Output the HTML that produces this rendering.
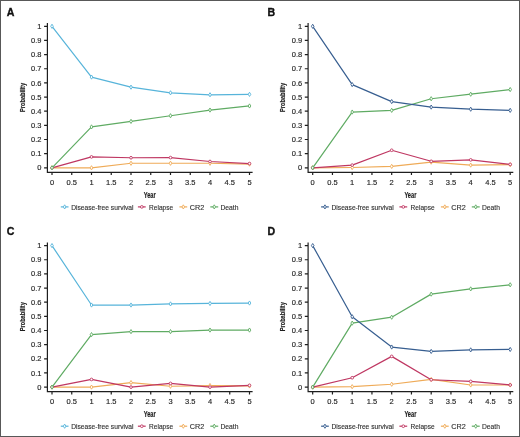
<!DOCTYPE html>
<html><head><meta charset="utf-8"><style>
html,body{margin:0;padding:0;background:#fff;}
svg{display:block;will-change:transform;}
text{font-family:"Liberation Sans", sans-serif;}
</style></head><body>
<svg width="520" height="437" viewBox="0 0 520 437">
<rect x="0" y="0" width="520" height="437" fill="#fff"/>
<g transform="translate(0,0)">
<text x="6.7" y="15.6" font-size="10.6" font-weight="bold" fill="#111" stroke="#111" stroke-width="0.35">A</text>
<path d="M47.4 23.1V172.3H252.6M44.1 167.8H47.4M44.1 153.65H47.4M44.1 139.5H47.4M44.1 125.35H47.4M44.1 111.2H47.4M44.1 97.05H47.4M44.1 82.9H47.4M44.1 68.75H47.4M44.1 54.6H47.4M44.1 40.45H47.4M44.1 26.3H47.4M52 172.3V175.1M71.75 172.3V175.1M91.5 172.3V175.1M111.25 172.3V175.1M131 172.3V175.1M150.75 172.3V175.1M170.5 172.3V175.1M190.25 172.3V175.1M210 172.3V175.1M229.75 172.3V175.1M249.5 172.3V175.1" fill="none" stroke="#1e1e1e" stroke-width="1.2"/>
<text x="41.5" y="170.4" font-size="7.5" text-anchor="end" fill="#262626" stroke="#262626" stroke-width="0.15">0</text>
<text x="41.5" y="156.25" font-size="7.5" text-anchor="end" fill="#262626" stroke="#262626" stroke-width="0.15">0.1</text>
<text x="41.5" y="142.1" font-size="7.5" text-anchor="end" fill="#262626" stroke="#262626" stroke-width="0.15">0.2</text>
<text x="41.5" y="127.95" font-size="7.5" text-anchor="end" fill="#262626" stroke="#262626" stroke-width="0.15">0.3</text>
<text x="41.5" y="113.8" font-size="7.5" text-anchor="end" fill="#262626" stroke="#262626" stroke-width="0.15">0.4</text>
<text x="41.5" y="99.65" font-size="7.5" text-anchor="end" fill="#262626" stroke="#262626" stroke-width="0.15">0.5</text>
<text x="41.5" y="85.5" font-size="7.5" text-anchor="end" fill="#262626" stroke="#262626" stroke-width="0.15">0.6</text>
<text x="41.5" y="71.35" font-size="7.5" text-anchor="end" fill="#262626" stroke="#262626" stroke-width="0.15">0.7</text>
<text x="41.5" y="57.2" font-size="7.5" text-anchor="end" fill="#262626" stroke="#262626" stroke-width="0.15">0.8</text>
<text x="41.5" y="43.05" font-size="7.5" text-anchor="end" fill="#262626" stroke="#262626" stroke-width="0.15">0.9</text>
<text x="41.5" y="28.9" font-size="7.5" text-anchor="end" fill="#262626" stroke="#262626" stroke-width="0.15">1</text>
<text x="52" y="184.6" font-size="7.5" text-anchor="middle" fill="#262626" stroke="#262626" stroke-width="0.15">0</text>
<text x="71.75" y="184.6" font-size="7.5" text-anchor="middle" fill="#262626" stroke="#262626" stroke-width="0.15">0.5</text>
<text x="91.5" y="184.6" font-size="7.5" text-anchor="middle" fill="#262626" stroke="#262626" stroke-width="0.15">1</text>
<text x="111.25" y="184.6" font-size="7.5" text-anchor="middle" fill="#262626" stroke="#262626" stroke-width="0.15">1.5</text>
<text x="131" y="184.6" font-size="7.5" text-anchor="middle" fill="#262626" stroke="#262626" stroke-width="0.15">2</text>
<text x="150.75" y="184.6" font-size="7.5" text-anchor="middle" fill="#262626" stroke="#262626" stroke-width="0.15">2.5</text>
<text x="170.5" y="184.6" font-size="7.5" text-anchor="middle" fill="#262626" stroke="#262626" stroke-width="0.15">3</text>
<text x="190.25" y="184.6" font-size="7.5" text-anchor="middle" fill="#262626" stroke="#262626" stroke-width="0.15">3.5</text>
<text x="210" y="184.6" font-size="7.5" text-anchor="middle" fill="#262626" stroke="#262626" stroke-width="0.15">4</text>
<text x="229.75" y="184.6" font-size="7.5" text-anchor="middle" fill="#262626" stroke="#262626" stroke-width="0.15">4.5</text>
<text x="249.5" y="184.6" font-size="7.5" text-anchor="middle" fill="#262626" stroke="#262626" stroke-width="0.15">5</text>
<text x="149.7" y="197.6" font-size="9.2" font-weight="bold" text-anchor="middle" textLength="12" lengthAdjust="spacingAndGlyphs" fill="#1e1e1e" stroke="#1e1e1e" stroke-width="0.18">Year</text>
<text transform="translate(24.5,97.4) rotate(-90)" x="0" y="0" font-size="7.8" font-weight="bold" text-anchor="middle" textLength="29" lengthAdjust="spacingAndGlyphs" fill="#1e1e1e" stroke="#1e1e1e" stroke-width="0.15">Probability</text>
<polyline points="52,167.8 91.5,167.8 131,163.27 170.5,163.27 210,163.27 249.5,164.12" fill="none" stroke="#efab58" stroke-width="1.2" stroke-linejoin="round"/>
<path d="M52 165.7L53.3 167.8L52 169.9L50.7 167.8Z" fill="#fff" stroke="#efab58" stroke-width="0.9"/>
<path d="M91.5 165.7L92.8 167.8L91.5 169.9L90.2 167.8Z" fill="#fff" stroke="#efab58" stroke-width="0.9"/>
<path d="M131 161.17L132.3 163.27L131 165.37L129.7 163.27Z" fill="#fff" stroke="#efab58" stroke-width="0.9"/>
<path d="M170.5 161.17L171.8 163.27L170.5 165.37L169.2 163.27Z" fill="#fff" stroke="#efab58" stroke-width="0.9"/>
<path d="M210 161.17L211.3 163.27L210 165.37L208.7 163.27Z" fill="#fff" stroke="#efab58" stroke-width="0.9"/>
<path d="M249.5 162.02L250.8 164.12L249.5 166.22L248.2 164.12Z" fill="#fff" stroke="#efab58" stroke-width="0.9"/>
<polyline points="52,167.8 91.5,156.9 131,157.75 170.5,157.61 210,161.5 249.5,163.56" fill="none" stroke="#bf3762" stroke-width="1.2" stroke-linejoin="round"/>
<circle cx="52" cy="167.8" r="1.35" fill="#fff" stroke="#bf3762" stroke-width="0.9"/>
<circle cx="91.5" cy="156.9" r="1.35" fill="#fff" stroke="#bf3762" stroke-width="0.9"/>
<circle cx="131" cy="157.75" r="1.35" fill="#fff" stroke="#bf3762" stroke-width="0.9"/>
<circle cx="170.5" cy="157.61" r="1.35" fill="#fff" stroke="#bf3762" stroke-width="0.9"/>
<circle cx="210" cy="161.5" r="1.35" fill="#fff" stroke="#bf3762" stroke-width="0.9"/>
<circle cx="249.5" cy="163.56" r="1.35" fill="#fff" stroke="#bf3762" stroke-width="0.9"/>
<polyline points="52,167.8 91.5,126.91 131,121.39 170.5,115.73 210,110.07 249.5,105.96" fill="none" stroke="#5fab63" stroke-width="1.2" stroke-linejoin="round"/>
<path d="M52 165.7L53.3 167.8L52 169.9L50.7 167.8Z" fill="#fff" stroke="#5fab63" stroke-width="0.9"/>
<path d="M91.5 124.81L92.8 126.91L91.5 129.01L90.2 126.91Z" fill="#fff" stroke="#5fab63" stroke-width="0.9"/>
<path d="M131 119.29L132.3 121.39L131 123.49L129.7 121.39Z" fill="#fff" stroke="#5fab63" stroke-width="0.9"/>
<path d="M170.5 113.63L171.8 115.73L170.5 117.83L169.2 115.73Z" fill="#fff" stroke="#5fab63" stroke-width="0.9"/>
<path d="M210 107.97L211.3 110.07L210 112.17L208.7 110.07Z" fill="#fff" stroke="#5fab63" stroke-width="0.9"/>
<path d="M249.5 103.86L250.8 105.96L249.5 108.06L248.2 105.96Z" fill="#fff" stroke="#5fab63" stroke-width="0.9"/>
<polyline points="52,26.3 91.5,77.1 131,87.15 170.5,92.81 210,94.79 249.5,94.36" fill="none" stroke="#57b4da" stroke-width="1.2" stroke-linejoin="round"/>
<path d="M52 24.2L53.3 26.3L52 28.4L50.7 26.3Z" fill="#fff" stroke="#57b4da" stroke-width="0.9"/>
<path d="M91.5 75L92.8 77.1L91.5 79.2L90.2 77.1Z" fill="#fff" stroke="#57b4da" stroke-width="0.9"/>
<path d="M131 85.05L132.3 87.15L131 89.25L129.7 87.15Z" fill="#fff" stroke="#57b4da" stroke-width="0.9"/>
<path d="M170.5 90.71L171.8 92.81L170.5 94.91L169.2 92.81Z" fill="#fff" stroke="#57b4da" stroke-width="0.9"/>
<path d="M210 92.69L211.3 94.79L210 96.89L208.7 94.79Z" fill="#fff" stroke="#57b4da" stroke-width="0.9"/>
<path d="M249.5 92.26L250.8 94.36L249.5 96.46L248.2 94.36Z" fill="#fff" stroke="#57b4da" stroke-width="0.9"/>
<path d="M60.8 206.9H68.5" stroke="#57b4da" stroke-width="1.2"/>
<path d="M64.65 204.8L65.95 206.9L64.65 209L63.35 206.9Z" fill="#fff" stroke="#57b4da" stroke-width="0.9"/>
<text x="71.2" y="209.8" font-size="7.3" textLength="62.3" lengthAdjust="spacingAndGlyphs" fill="#2e2e2e" stroke="#2e2e2e" stroke-width="0.12">Disease-free survival</text>
<path d="M137.9 206.9H145.7" stroke="#bf3762" stroke-width="1.2"/>
<circle cx="141.8" cy="206.9" r="1.35" fill="#fff" stroke="#bf3762" stroke-width="0.9"/>
<text x="149.1" y="209.8" font-size="7.3" textLength="24" lengthAdjust="spacingAndGlyphs" fill="#2e2e2e" stroke="#2e2e2e" stroke-width="0.12">Relapse</text>
<path d="M179.4 206.9H187.2" stroke="#efab58" stroke-width="1.2"/>
<path d="M183.3 204.8L184.6 206.9L183.3 209L182 206.9Z" fill="#fff" stroke="#efab58" stroke-width="0.9"/>
<text x="189.8" y="209.8" font-size="7.3" textLength="14.5" lengthAdjust="spacingAndGlyphs" fill="#2e2e2e" stroke="#2e2e2e" stroke-width="0.12">CR2</text>
<path d="M210.3 206.9H218.2" stroke="#5fab63" stroke-width="1.2"/>
<path d="M214.25 204.8L215.55 206.9L214.25 209L212.95 206.9Z" fill="#fff" stroke="#5fab63" stroke-width="0.9"/>
<text x="220.5" y="209.8" font-size="7.3" textLength="18" lengthAdjust="spacingAndGlyphs" fill="#2e2e2e" stroke="#2e2e2e" stroke-width="0.12">Death</text>
</g>
<g transform="translate(260.7,0)">
<text x="6.7" y="15.6" font-size="10.6" font-weight="bold" fill="#111" stroke="#111" stroke-width="0.35">B</text>
<path d="M47.4 23.1V172.3H252.6M44.1 167.8H47.4M44.1 153.65H47.4M44.1 139.5H47.4M44.1 125.35H47.4M44.1 111.2H47.4M44.1 97.05H47.4M44.1 82.9H47.4M44.1 68.75H47.4M44.1 54.6H47.4M44.1 40.45H47.4M44.1 26.3H47.4M52 172.3V175.1M71.75 172.3V175.1M91.5 172.3V175.1M111.25 172.3V175.1M131 172.3V175.1M150.75 172.3V175.1M170.5 172.3V175.1M190.25 172.3V175.1M210 172.3V175.1M229.75 172.3V175.1M249.5 172.3V175.1" fill="none" stroke="#1e1e1e" stroke-width="1.2"/>
<text x="41.5" y="170.4" font-size="7.5" text-anchor="end" fill="#262626" stroke="#262626" stroke-width="0.15">0</text>
<text x="41.5" y="156.25" font-size="7.5" text-anchor="end" fill="#262626" stroke="#262626" stroke-width="0.15">0.1</text>
<text x="41.5" y="142.1" font-size="7.5" text-anchor="end" fill="#262626" stroke="#262626" stroke-width="0.15">0.2</text>
<text x="41.5" y="127.95" font-size="7.5" text-anchor="end" fill="#262626" stroke="#262626" stroke-width="0.15">0.3</text>
<text x="41.5" y="113.8" font-size="7.5" text-anchor="end" fill="#262626" stroke="#262626" stroke-width="0.15">0.4</text>
<text x="41.5" y="99.65" font-size="7.5" text-anchor="end" fill="#262626" stroke="#262626" stroke-width="0.15">0.5</text>
<text x="41.5" y="85.5" font-size="7.5" text-anchor="end" fill="#262626" stroke="#262626" stroke-width="0.15">0.6</text>
<text x="41.5" y="71.35" font-size="7.5" text-anchor="end" fill="#262626" stroke="#262626" stroke-width="0.15">0.7</text>
<text x="41.5" y="57.2" font-size="7.5" text-anchor="end" fill="#262626" stroke="#262626" stroke-width="0.15">0.8</text>
<text x="41.5" y="43.05" font-size="7.5" text-anchor="end" fill="#262626" stroke="#262626" stroke-width="0.15">0.9</text>
<text x="41.5" y="28.9" font-size="7.5" text-anchor="end" fill="#262626" stroke="#262626" stroke-width="0.15">1</text>
<text x="52" y="184.6" font-size="7.5" text-anchor="middle" fill="#262626" stroke="#262626" stroke-width="0.15">0</text>
<text x="71.75" y="184.6" font-size="7.5" text-anchor="middle" fill="#262626" stroke="#262626" stroke-width="0.15">0.5</text>
<text x="91.5" y="184.6" font-size="7.5" text-anchor="middle" fill="#262626" stroke="#262626" stroke-width="0.15">1</text>
<text x="111.25" y="184.6" font-size="7.5" text-anchor="middle" fill="#262626" stroke="#262626" stroke-width="0.15">1.5</text>
<text x="131" y="184.6" font-size="7.5" text-anchor="middle" fill="#262626" stroke="#262626" stroke-width="0.15">2</text>
<text x="150.75" y="184.6" font-size="7.5" text-anchor="middle" fill="#262626" stroke="#262626" stroke-width="0.15">2.5</text>
<text x="170.5" y="184.6" font-size="7.5" text-anchor="middle" fill="#262626" stroke="#262626" stroke-width="0.15">3</text>
<text x="190.25" y="184.6" font-size="7.5" text-anchor="middle" fill="#262626" stroke="#262626" stroke-width="0.15">3.5</text>
<text x="210" y="184.6" font-size="7.5" text-anchor="middle" fill="#262626" stroke="#262626" stroke-width="0.15">4</text>
<text x="229.75" y="184.6" font-size="7.5" text-anchor="middle" fill="#262626" stroke="#262626" stroke-width="0.15">4.5</text>
<text x="249.5" y="184.6" font-size="7.5" text-anchor="middle" fill="#262626" stroke="#262626" stroke-width="0.15">5</text>
<text x="149.7" y="197.6" font-size="9.2" font-weight="bold" text-anchor="middle" textLength="12" lengthAdjust="spacingAndGlyphs" fill="#1e1e1e" stroke="#1e1e1e" stroke-width="0.18">Year</text>
<text transform="translate(24.5,97.4) rotate(-90)" x="0" y="0" font-size="7.8" font-weight="bold" text-anchor="middle" textLength="29" lengthAdjust="spacingAndGlyphs" fill="#1e1e1e" stroke="#1e1e1e" stroke-width="0.15">Probability</text>
<polyline points="52,167.8 91.5,167.52 131,166.39 170.5,162.14 210,165.11 249.5,164.69" fill="none" stroke="#efab58" stroke-width="1.2" stroke-linejoin="round"/>
<path d="M52 165.7L53.3 167.8L52 169.9L50.7 167.8Z" fill="#fff" stroke="#efab58" stroke-width="0.9"/>
<path d="M91.5 165.42L92.8 167.52L91.5 169.62L90.2 167.52Z" fill="#fff" stroke="#efab58" stroke-width="0.9"/>
<path d="M131 164.29L132.3 166.39L131 168.49L129.7 166.39Z" fill="#fff" stroke="#efab58" stroke-width="0.9"/>
<path d="M170.5 160.04L171.8 162.14L170.5 164.24L169.2 162.14Z" fill="#fff" stroke="#efab58" stroke-width="0.9"/>
<path d="M210 163.01L211.3 165.11L210 167.21L208.7 165.11Z" fill="#fff" stroke="#efab58" stroke-width="0.9"/>
<path d="M249.5 162.59L250.8 164.69L249.5 166.79L248.2 164.69Z" fill="#fff" stroke="#efab58" stroke-width="0.9"/>
<polyline points="52,167.8 91.5,165.11 131,150.25 170.5,161.29 210,159.88 249.5,164.4" fill="none" stroke="#bf3762" stroke-width="1.2" stroke-linejoin="round"/>
<circle cx="52" cy="167.8" r="1.35" fill="#fff" stroke="#bf3762" stroke-width="0.9"/>
<circle cx="91.5" cy="165.11" r="1.35" fill="#fff" stroke="#bf3762" stroke-width="0.9"/>
<circle cx="131" cy="150.25" r="1.35" fill="#fff" stroke="#bf3762" stroke-width="0.9"/>
<circle cx="170.5" cy="161.29" r="1.35" fill="#fff" stroke="#bf3762" stroke-width="0.9"/>
<circle cx="210" cy="159.88" r="1.35" fill="#fff" stroke="#bf3762" stroke-width="0.9"/>
<circle cx="249.5" cy="164.4" r="1.35" fill="#fff" stroke="#bf3762" stroke-width="0.9"/>
<polyline points="52,167.8 91.5,112.05 131,110.35 170.5,98.75 210,94.22 249.5,89.55" fill="none" stroke="#5fab63" stroke-width="1.2" stroke-linejoin="round"/>
<path d="M52 165.7L53.3 167.8L52 169.9L50.7 167.8Z" fill="#fff" stroke="#5fab63" stroke-width="0.9"/>
<path d="M91.5 109.95L92.8 112.05L91.5 114.15L90.2 112.05Z" fill="#fff" stroke="#5fab63" stroke-width="0.9"/>
<path d="M131 108.25L132.3 110.35L131 112.45L129.7 110.35Z" fill="#fff" stroke="#5fab63" stroke-width="0.9"/>
<path d="M170.5 96.65L171.8 98.75L170.5 100.85L169.2 98.75Z" fill="#fff" stroke="#5fab63" stroke-width="0.9"/>
<path d="M210 92.12L211.3 94.22L210 96.32L208.7 94.22Z" fill="#fff" stroke="#5fab63" stroke-width="0.9"/>
<path d="M249.5 87.45L250.8 89.55L249.5 91.65L248.2 89.55Z" fill="#fff" stroke="#5fab63" stroke-width="0.9"/>
<polyline points="52,26.3 91.5,84.6 131,101.58 170.5,107.1 210,109.22 249.5,110.35" fill="none" stroke="#375e90" stroke-width="1.2" stroke-linejoin="round"/>
<path d="M52 24.2L53.3 26.3L52 28.4L50.7 26.3Z" fill="#fff" stroke="#375e90" stroke-width="0.9"/>
<path d="M91.5 82.5L92.8 84.6L91.5 86.7L90.2 84.6Z" fill="#fff" stroke="#375e90" stroke-width="0.9"/>
<path d="M131 99.48L132.3 101.58L131 103.68L129.7 101.58Z" fill="#fff" stroke="#375e90" stroke-width="0.9"/>
<path d="M170.5 105L171.8 107.1L170.5 109.2L169.2 107.1Z" fill="#fff" stroke="#375e90" stroke-width="0.9"/>
<path d="M210 107.12L211.3 109.22L210 111.32L208.7 109.22Z" fill="#fff" stroke="#375e90" stroke-width="0.9"/>
<path d="M249.5 108.25L250.8 110.35L249.5 112.45L248.2 110.35Z" fill="#fff" stroke="#375e90" stroke-width="0.9"/>
<path d="M60.4 206.9H68.1" stroke="#375e90" stroke-width="1.2"/>
<path d="M64.25 204.8L65.55 206.9L64.25 209L62.95 206.9Z" fill="#fff" stroke="#375e90" stroke-width="0.9"/>
<text x="70.8" y="209.8" font-size="7.3" textLength="62.3" lengthAdjust="spacingAndGlyphs" fill="#2e2e2e" stroke="#2e2e2e" stroke-width="0.12">Disease-free survival</text>
<path d="M138.7 206.9H146.5" stroke="#bf3762" stroke-width="1.2"/>
<circle cx="142.6" cy="206.9" r="1.35" fill="#fff" stroke="#bf3762" stroke-width="0.9"/>
<text x="149.9" y="209.8" font-size="7.3" textLength="24" lengthAdjust="spacingAndGlyphs" fill="#2e2e2e" stroke="#2e2e2e" stroke-width="0.12">Relapse</text>
<path d="M180.2 206.9H188" stroke="#efab58" stroke-width="1.2"/>
<path d="M184.1 204.8L185.4 206.9L184.1 209L182.8 206.9Z" fill="#fff" stroke="#efab58" stroke-width="0.9"/>
<text x="190.6" y="209.8" font-size="7.3" textLength="14.5" lengthAdjust="spacingAndGlyphs" fill="#2e2e2e" stroke="#2e2e2e" stroke-width="0.12">CR2</text>
<path d="M211.1 206.9H219" stroke="#5fab63" stroke-width="1.2"/>
<path d="M215.05 204.8L216.35 206.9L215.05 209L213.75 206.9Z" fill="#fff" stroke="#5fab63" stroke-width="0.9"/>
<text x="221.3" y="209.8" font-size="7.3" textLength="18" lengthAdjust="spacingAndGlyphs" fill="#2e2e2e" stroke="#2e2e2e" stroke-width="0.12">Death</text>
</g>
<g transform="translate(0,219.3)">
<text x="6.7" y="16.2" font-size="10.6" font-weight="bold" fill="#111" stroke="#111" stroke-width="0.35">C</text>
<path d="M47.4 23.1V172.3H252.6M44.1 167.8H47.4M44.1 153.65H47.4M44.1 139.5H47.4M44.1 125.35H47.4M44.1 111.2H47.4M44.1 97.05H47.4M44.1 82.9H47.4M44.1 68.75H47.4M44.1 54.6H47.4M44.1 40.45H47.4M44.1 26.3H47.4M52 172.3V175.1M71.75 172.3V175.1M91.5 172.3V175.1M111.25 172.3V175.1M131 172.3V175.1M150.75 172.3V175.1M170.5 172.3V175.1M190.25 172.3V175.1M210 172.3V175.1M229.75 172.3V175.1M249.5 172.3V175.1" fill="none" stroke="#1e1e1e" stroke-width="1.2"/>
<text x="41.5" y="170.4" font-size="7.5" text-anchor="end" fill="#262626" stroke="#262626" stroke-width="0.15">0</text>
<text x="41.5" y="156.25" font-size="7.5" text-anchor="end" fill="#262626" stroke="#262626" stroke-width="0.15">0.1</text>
<text x="41.5" y="142.1" font-size="7.5" text-anchor="end" fill="#262626" stroke="#262626" stroke-width="0.15">0.2</text>
<text x="41.5" y="127.95" font-size="7.5" text-anchor="end" fill="#262626" stroke="#262626" stroke-width="0.15">0.3</text>
<text x="41.5" y="113.8" font-size="7.5" text-anchor="end" fill="#262626" stroke="#262626" stroke-width="0.15">0.4</text>
<text x="41.5" y="99.65" font-size="7.5" text-anchor="end" fill="#262626" stroke="#262626" stroke-width="0.15">0.5</text>
<text x="41.5" y="85.5" font-size="7.5" text-anchor="end" fill="#262626" stroke="#262626" stroke-width="0.15">0.6</text>
<text x="41.5" y="71.35" font-size="7.5" text-anchor="end" fill="#262626" stroke="#262626" stroke-width="0.15">0.7</text>
<text x="41.5" y="57.2" font-size="7.5" text-anchor="end" fill="#262626" stroke="#262626" stroke-width="0.15">0.8</text>
<text x="41.5" y="43.05" font-size="7.5" text-anchor="end" fill="#262626" stroke="#262626" stroke-width="0.15">0.9</text>
<text x="41.5" y="28.9" font-size="7.5" text-anchor="end" fill="#262626" stroke="#262626" stroke-width="0.15">1</text>
<text x="52" y="184.6" font-size="7.5" text-anchor="middle" fill="#262626" stroke="#262626" stroke-width="0.15">0</text>
<text x="71.75" y="184.6" font-size="7.5" text-anchor="middle" fill="#262626" stroke="#262626" stroke-width="0.15">0.5</text>
<text x="91.5" y="184.6" font-size="7.5" text-anchor="middle" fill="#262626" stroke="#262626" stroke-width="0.15">1</text>
<text x="111.25" y="184.6" font-size="7.5" text-anchor="middle" fill="#262626" stroke="#262626" stroke-width="0.15">1.5</text>
<text x="131" y="184.6" font-size="7.5" text-anchor="middle" fill="#262626" stroke="#262626" stroke-width="0.15">2</text>
<text x="150.75" y="184.6" font-size="7.5" text-anchor="middle" fill="#262626" stroke="#262626" stroke-width="0.15">2.5</text>
<text x="170.5" y="184.6" font-size="7.5" text-anchor="middle" fill="#262626" stroke="#262626" stroke-width="0.15">3</text>
<text x="190.25" y="184.6" font-size="7.5" text-anchor="middle" fill="#262626" stroke="#262626" stroke-width="0.15">3.5</text>
<text x="210" y="184.6" font-size="7.5" text-anchor="middle" fill="#262626" stroke="#262626" stroke-width="0.15">4</text>
<text x="229.75" y="184.6" font-size="7.5" text-anchor="middle" fill="#262626" stroke="#262626" stroke-width="0.15">4.5</text>
<text x="249.5" y="184.6" font-size="7.5" text-anchor="middle" fill="#262626" stroke="#262626" stroke-width="0.15">5</text>
<text x="149.7" y="197.6" font-size="9.2" font-weight="bold" text-anchor="middle" textLength="12" lengthAdjust="spacingAndGlyphs" fill="#1e1e1e" stroke="#1e1e1e" stroke-width="0.18">Year</text>
<text transform="translate(24.5,97.4) rotate(-90)" x="0" y="0" font-size="7.8" font-weight="bold" text-anchor="middle" textLength="29" lengthAdjust="spacingAndGlyphs" fill="#1e1e1e" stroke="#1e1e1e" stroke-width="0.15">Probability</text>
<polyline points="52,167.8 91.5,167.8 131,163.27 170.5,166.95 210,166.24 249.5,166.67" fill="none" stroke="#efab58" stroke-width="1.2" stroke-linejoin="round"/>
<path d="M52 165.7L53.3 167.8L52 169.9L50.7 167.8Z" fill="#fff" stroke="#efab58" stroke-width="0.9"/>
<path d="M91.5 165.7L92.8 167.8L91.5 169.9L90.2 167.8Z" fill="#fff" stroke="#efab58" stroke-width="0.9"/>
<path d="M131 161.17L132.3 163.27L131 165.37L129.7 163.27Z" fill="#fff" stroke="#efab58" stroke-width="0.9"/>
<path d="M170.5 164.85L171.8 166.95L170.5 169.05L169.2 166.95Z" fill="#fff" stroke="#efab58" stroke-width="0.9"/>
<path d="M210 164.14L211.3 166.24L210 168.34L208.7 166.24Z" fill="#fff" stroke="#efab58" stroke-width="0.9"/>
<path d="M249.5 164.57L250.8 166.67L249.5 168.77L248.2 166.67Z" fill="#fff" stroke="#efab58" stroke-width="0.9"/>
<polyline points="52,167.8 91.5,160.16 131,167.8 170.5,164.12 210,167.8 249.5,166.1" fill="none" stroke="#bf3762" stroke-width="1.2" stroke-linejoin="round"/>
<circle cx="52" cy="167.8" r="1.35" fill="#fff" stroke="#bf3762" stroke-width="0.9"/>
<circle cx="91.5" cy="160.16" r="1.35" fill="#fff" stroke="#bf3762" stroke-width="0.9"/>
<circle cx="131" cy="167.8" r="1.35" fill="#fff" stroke="#bf3762" stroke-width="0.9"/>
<circle cx="170.5" cy="164.12" r="1.35" fill="#fff" stroke="#bf3762" stroke-width="0.9"/>
<circle cx="210" cy="167.8" r="1.35" fill="#fff" stroke="#bf3762" stroke-width="0.9"/>
<circle cx="249.5" cy="166.1" r="1.35" fill="#fff" stroke="#bf3762" stroke-width="0.9"/>
<polyline points="52,167.8 91.5,115.3 131,112.33 170.5,112.33 210,110.78 249.5,110.78" fill="none" stroke="#5fab63" stroke-width="1.2" stroke-linejoin="round"/>
<path d="M52 165.7L53.3 167.8L52 169.9L50.7 167.8Z" fill="#fff" stroke="#5fab63" stroke-width="0.9"/>
<path d="M91.5 113.2L92.8 115.3L91.5 117.4L90.2 115.3Z" fill="#fff" stroke="#5fab63" stroke-width="0.9"/>
<path d="M131 110.23L132.3 112.33L131 114.43L129.7 112.33Z" fill="#fff" stroke="#5fab63" stroke-width="0.9"/>
<path d="M170.5 110.23L171.8 112.33L170.5 114.43L169.2 112.33Z" fill="#fff" stroke="#5fab63" stroke-width="0.9"/>
<path d="M210 108.68L211.3 110.78L210 112.88L208.7 110.78Z" fill="#fff" stroke="#5fab63" stroke-width="0.9"/>
<path d="M249.5 108.68L250.8 110.78L249.5 112.88L248.2 110.78Z" fill="#fff" stroke="#5fab63" stroke-width="0.9"/>
<polyline points="52,26.3 91.5,85.73 131,85.73 170.5,84.6 210,84.17 249.5,83.75" fill="none" stroke="#57b4da" stroke-width="1.2" stroke-linejoin="round"/>
<path d="M52 24.2L53.3 26.3L52 28.4L50.7 26.3Z" fill="#fff" stroke="#57b4da" stroke-width="0.9"/>
<path d="M91.5 83.63L92.8 85.73L91.5 87.83L90.2 85.73Z" fill="#fff" stroke="#57b4da" stroke-width="0.9"/>
<path d="M131 83.63L132.3 85.73L131 87.83L129.7 85.73Z" fill="#fff" stroke="#57b4da" stroke-width="0.9"/>
<path d="M170.5 82.5L171.8 84.6L170.5 86.7L169.2 84.6Z" fill="#fff" stroke="#57b4da" stroke-width="0.9"/>
<path d="M210 82.07L211.3 84.17L210 86.27L208.7 84.17Z" fill="#fff" stroke="#57b4da" stroke-width="0.9"/>
<path d="M249.5 81.65L250.8 83.75L249.5 85.85L248.2 83.75Z" fill="#fff" stroke="#57b4da" stroke-width="0.9"/>
<path d="M60.8 206.9H68.5" stroke="#57b4da" stroke-width="1.2"/>
<path d="M64.65 204.8L65.95 206.9L64.65 209L63.35 206.9Z" fill="#fff" stroke="#57b4da" stroke-width="0.9"/>
<text x="71.2" y="209.8" font-size="7.3" textLength="62.3" lengthAdjust="spacingAndGlyphs" fill="#2e2e2e" stroke="#2e2e2e" stroke-width="0.12">Disease-free survival</text>
<path d="M137.9 206.9H145.7" stroke="#bf3762" stroke-width="1.2"/>
<circle cx="141.8" cy="206.9" r="1.35" fill="#fff" stroke="#bf3762" stroke-width="0.9"/>
<text x="149.1" y="209.8" font-size="7.3" textLength="24" lengthAdjust="spacingAndGlyphs" fill="#2e2e2e" stroke="#2e2e2e" stroke-width="0.12">Relapse</text>
<path d="M179.4 206.9H187.2" stroke="#efab58" stroke-width="1.2"/>
<path d="M183.3 204.8L184.6 206.9L183.3 209L182 206.9Z" fill="#fff" stroke="#efab58" stroke-width="0.9"/>
<text x="189.8" y="209.8" font-size="7.3" textLength="14.5" lengthAdjust="spacingAndGlyphs" fill="#2e2e2e" stroke="#2e2e2e" stroke-width="0.12">CR2</text>
<path d="M210.3 206.9H218.2" stroke="#5fab63" stroke-width="1.2"/>
<path d="M214.25 204.8L215.55 206.9L214.25 209L212.95 206.9Z" fill="#fff" stroke="#5fab63" stroke-width="0.9"/>
<text x="220.5" y="209.8" font-size="7.3" textLength="18" lengthAdjust="spacingAndGlyphs" fill="#2e2e2e" stroke="#2e2e2e" stroke-width="0.12">Death</text>
</g>
<g transform="translate(260.7,219.3)">
<text x="6.7" y="16.2" font-size="10.6" font-weight="bold" fill="#111" stroke="#111" stroke-width="0.35">D</text>
<path d="M47.4 23.1V172.3H252.6M44.1 167.8H47.4M44.1 153.65H47.4M44.1 139.5H47.4M44.1 125.35H47.4M44.1 111.2H47.4M44.1 97.05H47.4M44.1 82.9H47.4M44.1 68.75H47.4M44.1 54.6H47.4M44.1 40.45H47.4M44.1 26.3H47.4M52 172.3V175.1M71.75 172.3V175.1M91.5 172.3V175.1M111.25 172.3V175.1M131 172.3V175.1M150.75 172.3V175.1M170.5 172.3V175.1M190.25 172.3V175.1M210 172.3V175.1M229.75 172.3V175.1M249.5 172.3V175.1" fill="none" stroke="#1e1e1e" stroke-width="1.2"/>
<text x="41.5" y="170.4" font-size="7.5" text-anchor="end" fill="#262626" stroke="#262626" stroke-width="0.15">0</text>
<text x="41.5" y="156.25" font-size="7.5" text-anchor="end" fill="#262626" stroke="#262626" stroke-width="0.15">0.1</text>
<text x="41.5" y="142.1" font-size="7.5" text-anchor="end" fill="#262626" stroke="#262626" stroke-width="0.15">0.2</text>
<text x="41.5" y="127.95" font-size="7.5" text-anchor="end" fill="#262626" stroke="#262626" stroke-width="0.15">0.3</text>
<text x="41.5" y="113.8" font-size="7.5" text-anchor="end" fill="#262626" stroke="#262626" stroke-width="0.15">0.4</text>
<text x="41.5" y="99.65" font-size="7.5" text-anchor="end" fill="#262626" stroke="#262626" stroke-width="0.15">0.5</text>
<text x="41.5" y="85.5" font-size="7.5" text-anchor="end" fill="#262626" stroke="#262626" stroke-width="0.15">0.6</text>
<text x="41.5" y="71.35" font-size="7.5" text-anchor="end" fill="#262626" stroke="#262626" stroke-width="0.15">0.7</text>
<text x="41.5" y="57.2" font-size="7.5" text-anchor="end" fill="#262626" stroke="#262626" stroke-width="0.15">0.8</text>
<text x="41.5" y="43.05" font-size="7.5" text-anchor="end" fill="#262626" stroke="#262626" stroke-width="0.15">0.9</text>
<text x="41.5" y="28.9" font-size="7.5" text-anchor="end" fill="#262626" stroke="#262626" stroke-width="0.15">1</text>
<text x="52" y="184.6" font-size="7.5" text-anchor="middle" fill="#262626" stroke="#262626" stroke-width="0.15">0</text>
<text x="71.75" y="184.6" font-size="7.5" text-anchor="middle" fill="#262626" stroke="#262626" stroke-width="0.15">0.5</text>
<text x="91.5" y="184.6" font-size="7.5" text-anchor="middle" fill="#262626" stroke="#262626" stroke-width="0.15">1</text>
<text x="111.25" y="184.6" font-size="7.5" text-anchor="middle" fill="#262626" stroke="#262626" stroke-width="0.15">1.5</text>
<text x="131" y="184.6" font-size="7.5" text-anchor="middle" fill="#262626" stroke="#262626" stroke-width="0.15">2</text>
<text x="150.75" y="184.6" font-size="7.5" text-anchor="middle" fill="#262626" stroke="#262626" stroke-width="0.15">2.5</text>
<text x="170.5" y="184.6" font-size="7.5" text-anchor="middle" fill="#262626" stroke="#262626" stroke-width="0.15">3</text>
<text x="190.25" y="184.6" font-size="7.5" text-anchor="middle" fill="#262626" stroke="#262626" stroke-width="0.15">3.5</text>
<text x="210" y="184.6" font-size="7.5" text-anchor="middle" fill="#262626" stroke="#262626" stroke-width="0.15">4</text>
<text x="229.75" y="184.6" font-size="7.5" text-anchor="middle" fill="#262626" stroke="#262626" stroke-width="0.15">4.5</text>
<text x="249.5" y="184.6" font-size="7.5" text-anchor="middle" fill="#262626" stroke="#262626" stroke-width="0.15">5</text>
<text x="149.7" y="197.6" font-size="9.2" font-weight="bold" text-anchor="middle" textLength="12" lengthAdjust="spacingAndGlyphs" fill="#1e1e1e" stroke="#1e1e1e" stroke-width="0.18">Year</text>
<text transform="translate(24.5,97.4) rotate(-90)" x="0" y="0" font-size="7.8" font-weight="bold" text-anchor="middle" textLength="29" lengthAdjust="spacingAndGlyphs" fill="#1e1e1e" stroke="#1e1e1e" stroke-width="0.15">Probability</text>
<polyline points="52,167.8 91.5,167.38 131,164.97 170.5,160.16 210,165.68 249.5,165.68" fill="none" stroke="#efab58" stroke-width="1.2" stroke-linejoin="round"/>
<path d="M52 165.7L53.3 167.8L52 169.9L50.7 167.8Z" fill="#fff" stroke="#efab58" stroke-width="0.9"/>
<path d="M91.5 165.28L92.8 167.38L91.5 169.48L90.2 167.38Z" fill="#fff" stroke="#efab58" stroke-width="0.9"/>
<path d="M131 162.87L132.3 164.97L131 167.07L129.7 164.97Z" fill="#fff" stroke="#efab58" stroke-width="0.9"/>
<path d="M170.5 158.06L171.8 160.16L170.5 162.26L169.2 160.16Z" fill="#fff" stroke="#efab58" stroke-width="0.9"/>
<path d="M210 163.58L211.3 165.68L210 167.78L208.7 165.68Z" fill="#fff" stroke="#efab58" stroke-width="0.9"/>
<path d="M249.5 163.58L250.8 165.68L249.5 167.78L248.2 165.68Z" fill="#fff" stroke="#efab58" stroke-width="0.9"/>
<polyline points="52,167.8 91.5,158.46 131,137.09 170.5,160.44 210,162.14 249.5,165.68" fill="none" stroke="#bf3762" stroke-width="1.2" stroke-linejoin="round"/>
<circle cx="52" cy="167.8" r="1.35" fill="#fff" stroke="#bf3762" stroke-width="0.9"/>
<circle cx="91.5" cy="158.46" r="1.35" fill="#fff" stroke="#bf3762" stroke-width="0.9"/>
<circle cx="131" cy="137.09" r="1.35" fill="#fff" stroke="#bf3762" stroke-width="0.9"/>
<circle cx="170.5" cy="160.44" r="1.35" fill="#fff" stroke="#bf3762" stroke-width="0.9"/>
<circle cx="210" cy="162.14" r="1.35" fill="#fff" stroke="#bf3762" stroke-width="0.9"/>
<circle cx="249.5" cy="165.68" r="1.35" fill="#fff" stroke="#bf3762" stroke-width="0.9"/>
<polyline points="52,167.8 91.5,103.84 131,97.9 170.5,74.83 210,69.6 249.5,65.5" fill="none" stroke="#5fab63" stroke-width="1.2" stroke-linejoin="round"/>
<path d="M52 165.7L53.3 167.8L52 169.9L50.7 167.8Z" fill="#fff" stroke="#5fab63" stroke-width="0.9"/>
<path d="M91.5 101.74L92.8 103.84L91.5 105.94L90.2 103.84Z" fill="#fff" stroke="#5fab63" stroke-width="0.9"/>
<path d="M131 95.8L132.3 97.9L131 100L129.7 97.9Z" fill="#fff" stroke="#5fab63" stroke-width="0.9"/>
<path d="M170.5 72.73L171.8 74.83L170.5 76.93L169.2 74.83Z" fill="#fff" stroke="#5fab63" stroke-width="0.9"/>
<path d="M210 67.5L211.3 69.6L210 71.7L208.7 69.6Z" fill="#fff" stroke="#5fab63" stroke-width="0.9"/>
<path d="M249.5 63.4L250.8 65.5L249.5 67.6L248.2 65.5Z" fill="#fff" stroke="#5fab63" stroke-width="0.9"/>
<polyline points="52,26.3 91.5,97.47 131,127.76 170.5,132.14 210,130.59 249.5,130.16" fill="none" stroke="#375e90" stroke-width="1.2" stroke-linejoin="round"/>
<path d="M52 24.2L53.3 26.3L52 28.4L50.7 26.3Z" fill="#fff" stroke="#375e90" stroke-width="0.9"/>
<path d="M91.5 95.37L92.8 97.47L91.5 99.57L90.2 97.47Z" fill="#fff" stroke="#375e90" stroke-width="0.9"/>
<path d="M131 125.66L132.3 127.76L131 129.86L129.7 127.76Z" fill="#fff" stroke="#375e90" stroke-width="0.9"/>
<path d="M170.5 130.04L171.8 132.14L170.5 134.24L169.2 132.14Z" fill="#fff" stroke="#375e90" stroke-width="0.9"/>
<path d="M210 128.49L211.3 130.59L210 132.69L208.7 130.59Z" fill="#fff" stroke="#375e90" stroke-width="0.9"/>
<path d="M249.5 128.06L250.8 130.16L249.5 132.26L248.2 130.16Z" fill="#fff" stroke="#375e90" stroke-width="0.9"/>
<path d="M60.4 206.9H68.1" stroke="#375e90" stroke-width="1.2"/>
<path d="M64.25 204.8L65.55 206.9L64.25 209L62.95 206.9Z" fill="#fff" stroke="#375e90" stroke-width="0.9"/>
<text x="70.8" y="209.8" font-size="7.3" textLength="62.3" lengthAdjust="spacingAndGlyphs" fill="#2e2e2e" stroke="#2e2e2e" stroke-width="0.12">Disease-free survival</text>
<path d="M138.7 206.9H146.5" stroke="#bf3762" stroke-width="1.2"/>
<circle cx="142.6" cy="206.9" r="1.35" fill="#fff" stroke="#bf3762" stroke-width="0.9"/>
<text x="149.9" y="209.8" font-size="7.3" textLength="24" lengthAdjust="spacingAndGlyphs" fill="#2e2e2e" stroke="#2e2e2e" stroke-width="0.12">Relapse</text>
<path d="M180.2 206.9H188" stroke="#efab58" stroke-width="1.2"/>
<path d="M184.1 204.8L185.4 206.9L184.1 209L182.8 206.9Z" fill="#fff" stroke="#efab58" stroke-width="0.9"/>
<text x="190.6" y="209.8" font-size="7.3" textLength="14.5" lengthAdjust="spacingAndGlyphs" fill="#2e2e2e" stroke="#2e2e2e" stroke-width="0.12">CR2</text>
<path d="M211.1 206.9H219" stroke="#5fab63" stroke-width="1.2"/>
<path d="M215.05 204.8L216.35 206.9L215.05 209L213.75 206.9Z" fill="#fff" stroke="#5fab63" stroke-width="0.9"/>
<text x="221.3" y="209.8" font-size="7.3" textLength="18" lengthAdjust="spacingAndGlyphs" fill="#2e2e2e" stroke="#2e2e2e" stroke-width="0.12">Death</text>
</g>
<rect x="0.5" y="0.5" width="519" height="436" fill="none" stroke="#585858" stroke-width="1"/>
</svg>
</body></html>
